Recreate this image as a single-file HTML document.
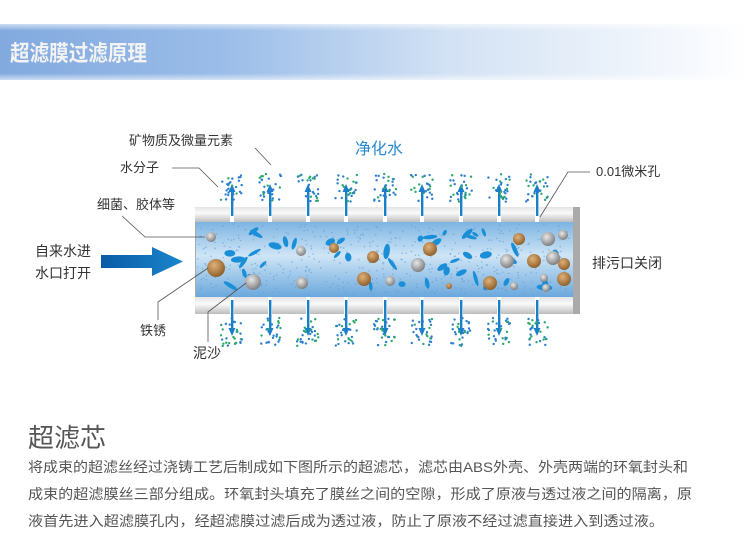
<!DOCTYPE html>
<html><head><meta charset="utf-8">
<style>
html,body{margin:0;padding:0;background:#fff;}
body{width:750px;height:557px;overflow:hidden;position:relative;font-family:"Liberation Sans","Noto Sans CJK SC",sans-serif;}
</style></head><body>
<svg id="s" width="750" height="557" viewBox="0 0 750 557" xmlns="http://www.w3.org/2000/svg" style="position:absolute;left:0;top:0">
<defs>
<linearGradient id="hdr" x1="0" x2="1" y1="0" y2="0">
<stop offset="0" stop-color="#82aadf"/><stop offset="0.3" stop-color="#9bbde8"/><stop offset="0.6" stop-color="#d3e2f4"/><stop offset="1" stop-color="#ffffff"/>
</linearGradient>
<linearGradient id="hdrv" x1="0" x2="0" y1="0" y2="1">
<stop offset="0" stop-color="#fff" stop-opacity="0.6"/><stop offset="0.12" stop-color="#fff" stop-opacity="0"/><stop offset="0.88" stop-color="#fff" stop-opacity="0"/><stop offset="1" stop-color="#fff" stop-opacity="0.6"/>
</linearGradient>
<linearGradient id="wall" x1="0" x2="0" y1="0" y2="1">
<stop offset="0" stop-color="#e4e4e4"/><stop offset="0.4" stop-color="#fafafa"/><stop offset="1" stop-color="#bdbdbd"/>
</linearGradient>
<linearGradient id="inner" x1="0" x2="0" y1="0" y2="1">
<stop offset="0" stop-color="#7db4e2"/><stop offset="0.45" stop-color="#cfe5f6"/><stop offset="1" stop-color="#6aa8dc"/>
</linearGradient>
<linearGradient id="arr" x1="0" x2="1">
<stop offset="0" stop-color="#0a5ba5"/><stop offset="1" stop-color="#1a86cc"/>
</linearGradient>
<radialGradient id="br" cx="0.4" cy="0.35" r="0.7"><stop offset="0" stop-color="#e0b27a"/><stop offset="1" stop-color="#8a5a25"/></radialGradient>
<radialGradient id="gr" cx="0.4" cy="0.35" r="0.7"><stop offset="0" stop-color="#e8e8e8"/><stop offset="1" stop-color="#777"/></radialGradient>
</defs>
<rect x="0" y="24" width="750" height="56" fill="url(#hdr)"/>
<rect x="0" y="24" width="750" height="56" fill="url(#hdrv)"/>
<text x="10" y="61" font-size="22" font-weight="bold" fill="#f3f3f3" textLength="137" lengthAdjust="spacingAndGlyphs" font-family="Liberation Sans,'Noto Sans CJK SC',sans-serif">超滤膜过滤原理</text>

<rect x="195" y="207" width="385" height="107" fill="#aaa"/>
<rect x="195" y="207" width="378" height="15" fill="url(#wall)"/>
<rect x="195" y="297" width="378" height="17" fill="url(#wall)"/>
<rect x="196" y="222" width="377" height="75" fill="url(#inner)"/>
<g id="pores"></g>
<g id="bits"></g>

<polygon points="101,255 152,255 152,247 183,261.5 152,276 152,268 101,268" fill="url(#arr)"/>

<g stroke="#555" stroke-width="0.8" fill="none">
<polyline points="255,148 271,165"/>
<polyline points="172,168 199,168 218,187"/>
<polyline points="122,216 145,237 205,237"/>
<polyline points="590,172 568,172 540,217"/>
<polyline points="158,320 158,302 208,268"/>
<polyline points="208,342 208,312 246,283"/>
</g>

<g font-size="13" fill="#333" font-family="Liberation Sans,'Noto Sans CJK SC',sans-serif">
<text x="129" y="145">矿物质及微量元素</text>
<text x="120" y="172">水分子</text>
<text x="97" y="209">细菌、胶体等</text>
<text x="35" y="256" font-size="14">自来水进</text>
<text x="35" y="278" font-size="14">水口打开</text>
<text x="596" y="176">0.01微米孔</text>
<text x="592" y="268" font-size="14">排污口关闭</text>
<text x="140" y="335">铁锈</text>
<text x="193" y="358" font-size="14">泥沙</text>
<text x="355" y="154" font-size="16" fill="#2a8ad0">净化水</text>
</g>

<text x="28" y="447" font-size="26" fill="#555" font-family="Liberation Sans,'Noto Sans CJK SC',sans-serif">超滤芯</text>
<g font-size="14" fill="#555" font-family="Liberation Sans,'Noto Sans CJK SC',sans-serif">
<text x="28" y="472" textLength="660" lengthAdjust="spacingAndGlyphs">将成束的超滤丝经过浇铸工艺后制成如下图所示的超滤芯，滤芯由ABS外壳、外壳两端的环氧封头和</text>
<text x="28" y="499" textLength="664" lengthAdjust="spacingAndGlyphs">成束的超滤膜丝三部分组成。环氧封头填充了膜丝之间的空隙，形成了原液与透过液之间的隔离，原</text>
<text x="28" y="526" textLength="636" lengthAdjust="spacingAndGlyphs">液首先进入超滤膜孔内，经超滤膜过滤后成为透过液，防止了原液不经过滤直接进入到透过液。</text>
</g>
</svg>
<script>
var NS="http://www.w3.org/2000/svg";
var seed=7;function r(){seed=(seed*16807)%2147483647;return seed/2147483647;}
function el(t,a,p){var e=document.createElementNS(NS,t);for(var k in a)e.setAttribute(k,a[k]);p.appendChild(e);return e;}
var P=document.getElementById("pores"),B=document.getElementById("bits");
var xs=[232,270,308,346,385,422,461,499,537];
xs.forEach(function(x){
 el("rect",{x:x-2,y:207,width:4,height:15,fill:"#fff"},P);
 el("rect",{x:x-2,y:297,width:4,height:17,fill:"#fff"},P);
 el("rect",{x:x-1,y:190,width:2.4,height:26,fill:"#1a7fc8"},P);
 el("polygon",{points:(x-3.5)+",192 "+(x+3.5)+",192 "+x+",184",fill:"#1a7fc8"},P);
 el("rect",{x:x-1,y:300,width:2.4,height:30,fill:"#1a7fc8"},P);
 el("polygon",{points:(x-3.5)+",328 "+(x+3.5)+",328 "+x+",336",fill:"#1a7fc8"},P);
 for(var i=0;i<28;i++){var dx=(r()-0.5)*22,dy=r()*28;el("circle",{cx:x+dx,cy:174+dy,r:1.2,fill:r()<0.35?"#2aa86a":"#2a7fd0"},P);}
 for(var i=0;i<28;i++){var dx=(r()-0.5)*22,dy=r()*28;el("circle",{cx:x+dx,cy:318+dy,r:1.2,fill:r()<0.35?"#2aa86a":"#2a7fd0"},P);}
});
for(var i=0;i<500;i++){el("circle",{cx:198+r()*372,cy:224+r()*71,r:0.8,fill:"#5d9fd8",opacity:0.6},B);}
for(var i=0;i<45;i++){var x=225+r()*340,y=230+r()*60,w=3+r()*5,h=1.5+r()*2;el("ellipse",{cx:x,cy:y,rx:w,ry:h,fill:"#1a8fd8",transform:"rotate("+(r()*180)+" "+x+" "+y+")"},B);}
[[216,268,9],[334,248,5],[373,257,6],[430,249,7],[364,279,7],[449,286,3],[490,283,7],[519,239,6],[534,261,7],[564,264,6],[564,279,7]].forEach(function(c){el("circle",{cx:c[0],cy:c[1],r:c[2],fill:"url(#br)"},B);});
[[211,237,5],[253,282,8],[301,251,5],[302,283,6],[418,265,7],[390,281,5],[507,261,7],[548,239,7],[563,235,5],[553,258,7],[544,278,4],[514,286,4],[546,288,4]].forEach(function(c){el("circle",{cx:c[0],cy:c[1],r:c[2],fill:"url(#gr)"},B);});
</script>
</body></html>
